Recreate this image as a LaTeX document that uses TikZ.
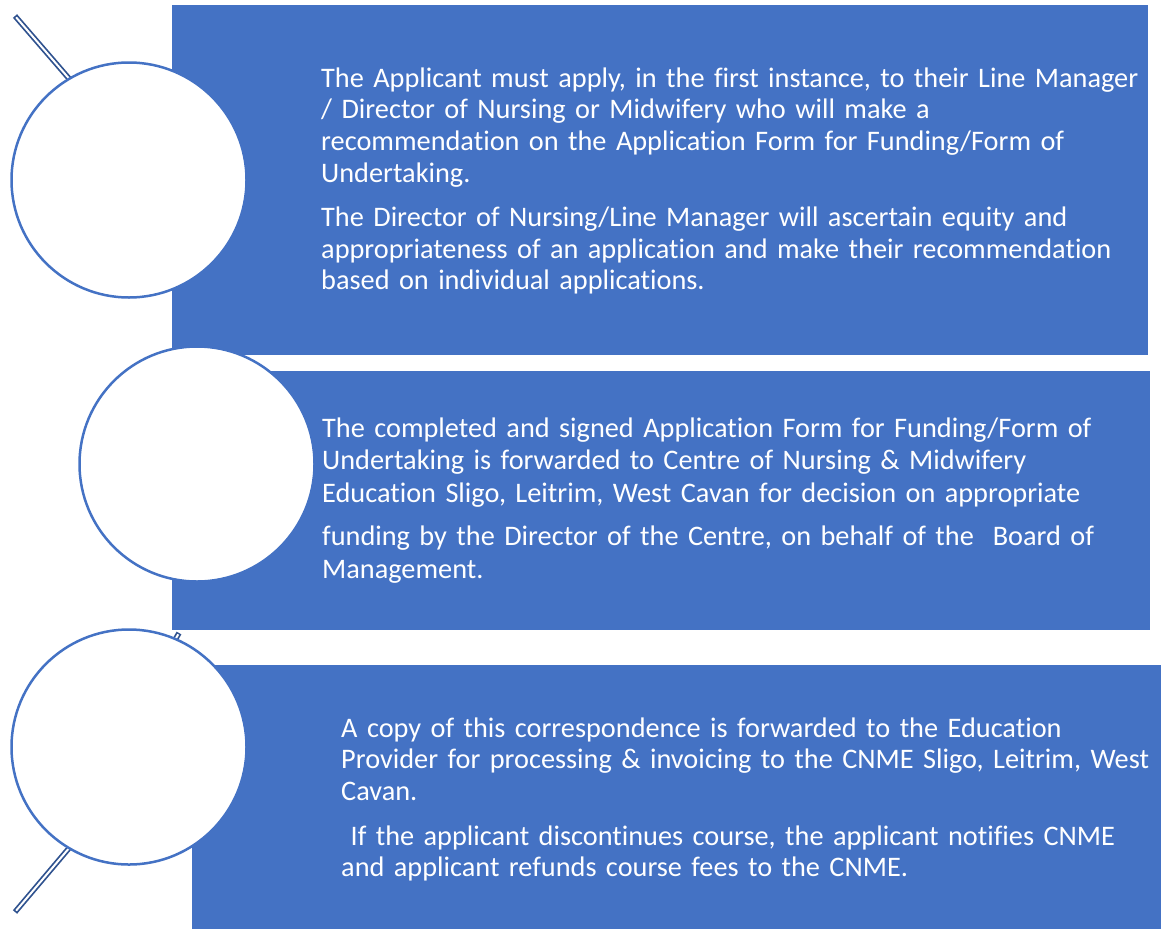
\documentclass[tikz,border=0pt]{standalone}
\usepackage{fontspec}
\setmainfont{Carlito}[Ligatures=NoCommon]
\definecolor{boxblue}{HTML}{4472C4}
\definecolor{linkblue}{HTML}{2F528F}
\tikzset{
  x=1pt, y=-1pt,
  stepbox/.style={fill=boxblue, draw=none},
  ring/.style={circle, draw=boxblue, line width=2.5pt, fill=white, minimum size=235pt, inner sep=0pt},
  txt/.style={anchor=base west, text=white, align=left, text width=860pt, inner sep=0pt,
    font=\fontsize{28.3}{31.7}\selectfont},
  linkout/.style={draw=linkblue, line width=5.5pt},
  linkin/.style={draw=white, line width=2pt},
}
\begin{document}
\begin{tikzpicture}
\useasboundingbox (0,0) rectangle (1164,929);
% rectangles
\path[stepbox] (172,5) rectangle (1148,355);
\path[stepbox] (172,371) rectangle (1150,630);
\path[stepbox] (192,665) rectangle (1161,929);
% link lines
\coordinate (l1a) at (15,16);
\coordinate (l1b) at (72,82);
\coordinate (l3a) at (70,847);
\coordinate (l3b) at (15,912);
\coordinate (l2a) at (175,640);
\coordinate (l2b) at (179,633);
\draw[linkout] (l1a) -- (l1b);
\draw[linkin, shorten <=1.75pt] (l1a) -- (l1b);
\draw[linkout] (l3a) -- (l3b);
\draw[linkin, shorten >=1.75pt] (l3a) -- (l3b);
\draw[linkout] (l2a) -- (l2b);
\draw[linkin, shorten >=1.5pt] (l2a) -- (l2b);
% circles
\node[ring] (c1) at (129,180) {};
\node[ring] (c2) at (197,464) {};
\node[ring] (c3) at (129,747) {};
% texts
\node[txt] (t1a) at (321,87) {The Applicant must apply, in the first instance, to their Line Manager\\
/ Director of Nursing or Midwifery who will make a\\
recommendation on the Application Form for Funding/Form of\\
Undertaking.};
\node[txt] (t1b) at (321,226.5) {The Director of Nursing/Line Manager will ascertain equity and\\
appropriateness of an application and make their recommendation\\
based on individual applications.};
\node[txt, font=\fontsize{28.3}{32.5}\selectfont] (t2) at (322,437) {The completed and signed Application Form for Funding/Form of\\
Undertaking is forwarded to Centre of Nursing \& Midwifery\\
Education Sligo, Leitrim, West Cavan for decision on appropriate\\[11pt]
funding by the Director of the Centre, on behalf of the\ \ Board of\\
Management.};
\node[txt] (t3a) at (341,737) {A copy of this correspondence is forwarded to the Education\\
Provider for processing \& invoicing to the CNME Sligo, Leitrim, West\\
Cavan.};
\node[txt] (t3b) at (341,845) {\ If the applicant discontinues course, the applicant notifies CNME\\
and applicant refunds course fees to the CNME.};
\end{tikzpicture}
\end{document}
